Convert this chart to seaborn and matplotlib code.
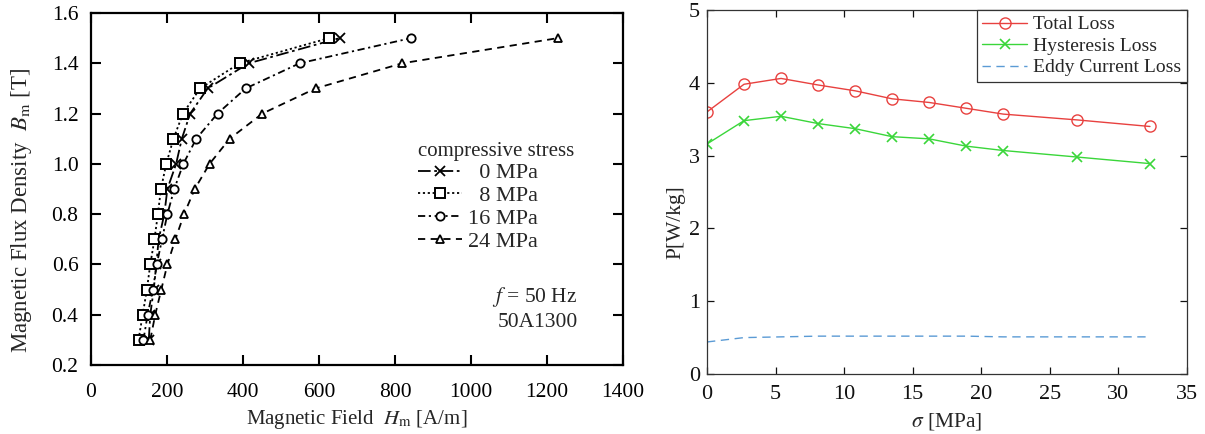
import matplotlib
matplotlib.use("Agg")
import matplotlib.pyplot as plt
import seaborn as sns
import numpy as np
import pandas as pd

# ---------------- data: left chart (B-H curves) ----------------
B_levels = [0.3, 0.4, 0.5, 0.6, 0.7, 0.8, 0.9, 1.0, 1.1, 1.2, 1.3, 1.4, 1.5]
H_0MPa = [152, 156, 165, 172, 178, 193, 201, 224, 239, 261, 307, 415, 654]
H_8MPa = [125, 136, 147, 156, 167, 176, 184, 198, 217, 242, 287, 391, 626]
H_16MPa = [138, 149, 163, 173, 187, 201, 219, 243, 277, 333, 407, 549, 842]
H_24MPa = [156, 169, 185, 201, 222, 245, 273, 312, 365, 451, 591, 819, 1228]
stress_labels = ["  0 MPa", "  8 MPa", "16 MPa", "24 MPa"]

# ---------------- data: right chart (losses vs stress) ----------------
sigma = [0, 2.7, 5.4, 8.1, 10.8, 13.5, 16.2, 18.9, 21.6, 27.0, 32.3]
total_loss = [3.60, 3.98, 4.06, 3.97, 3.89, 3.78, 3.73, 3.65, 3.57, 3.49, 3.40]
hyst_loss = [3.16, 3.48, 3.54, 3.44, 3.37, 3.26, 3.23, 3.13, 3.07, 2.98, 2.89]
eddy_loss = [0.44, 0.50, 0.51, 0.52, 0.52, 0.52, 0.52, 0.52, 0.51, 0.51, 0.51]

sns.set_theme(style="ticks")
plt.rcParams["font.family"] = ["Liberation Serif", "DejaVu Serif"]
plt.rcParams["mathtext.fontset"] = "stix"

W, H = 1205, 434
fig = plt.figure(figsize=(W / 100, H / 100), dpi=100)
fig.patch.set_facecolor("white")

# ---------- left axes ----------
axL = fig.add_axes([91 / W, 1 - 365 / H, (623 - 91) / W, (365 - 13) / H])
styles = [
    dict(marker="x", linestyle=(0, (7, 2, 1.5, 2)), ms=6.5, mew=1.3),
    dict(marker="s", linestyle=(0, (1.2, 1.5)), ms=7.5, mew=1.4),
    dict(marker="o", linestyle=(0, (4, 2, 1.2, 2)), ms=6, mew=1.3),
    dict(marker="^", linestyle=(0, (4, 3)), ms=6, mew=1.3),
]
for Hs, lab, st in zip([H_0MPa, H_8MPa, H_16MPa, H_24MPa], stress_labels, styles):
    df = pd.DataFrame({"H": Hs, "B": B_levels})
    sns.lineplot(data=df, x="H", y="B", sort=False, ax=axL, color="black",
                 linewidth=1.3, marker=st["marker"], markersize=st["ms"],
                 markeredgewidth=st["mew"], markerfacecolor="white",
                 markeredgecolor="black", linestyle=st["linestyle"], label=lab)

axL.set_xlim(0, 1400)
axL.set_ylim(0.2, 1.6)
axL.set_xticks(np.arange(0, 1401, 200))
axL.set_yticks(np.arange(0.2, 1.61, 0.2))
axL.set_yticklabels([f"{v:.1f}" for v in np.arange(0.2, 1.61, 0.2)])
for sp in axL.spines.values():
    sp.set_linewidth(1.6)
    sp.set_color("black")
    sp.set_visible(True)
axL.tick_params(direction="in", length=7, width=1.5, top=True, right=True,
                labelsize=15.5, colors="black")
axL.tick_params(axis="x", pad=13)
axL.tick_params(axis="y", pad=9)
axL.set_xlabel(r"Magnetic Field  $H_{\mathrm{m}}$ [A/m]", fontsize=15, va="center")
axL.xaxis.set_label_coords(0.5, -0.156)
axL.set_ylabel(r"Magnetic Flux Density  $B_{\mathrm{m}}$ [T]", fontsize=16.5,
               va="center")
axL.yaxis.set_label_coords(-0.130, 0.440)
legL = axL.legend(title="compressive stress", loc="upper left",
                  bbox_to_anchor=(0.585, 0.679), frameon=False, fontsize=16,
                  title_fontsize=15, handlelength=2.0, handletextpad=0.25,
                  labelspacing=0.1, borderpad=0.2, numpoints=1)
legL._legend_box.align = "left"
axL.text(0.915, 0.193, r"$f$ = 50 Hz", transform=axL.transAxes, ha="right",
         va="center", fontsize=15.5)
axL.text(0.915, 0.122, "50A1300", transform=axL.transAxes, ha="right",
         va="center", fontsize=15.5)

# ---------- right axes ----------
axR = fig.add_axes([707 / W, 1 - 374 / H, (1187 - 707) / W, (374 - 10) / H])
dfR = pd.DataFrame({"sigma": sigma, "total": total_loss, "hyst": hyst_loss,
                    "eddy": eddy_loss})
red, green, blue = "#e8413f", "#3ad63a", "#5b9bd5"
sns.lineplot(data=dfR, x="sigma", y="total", ax=axR, color=red,
             linewidth=1.0, marker="o", markersize=8, markerfacecolor="none",
             markeredgecolor=red, markeredgewidth=1.0, label="Total Loss")
sns.lineplot(data=dfR, x="sigma", y="hyst", ax=axR, color=green,
             linewidth=1.0, marker="x", markersize=7, markeredgewidth=1.2,
             markeredgecolor=green, label="Hysteresis Loss")
sns.lineplot(data=dfR, x="sigma", y="eddy", ax=axR, color=blue,
             linewidth=1.0, linestyle=(0, (6, 4)), label="Eddy Current Loss")
axR.set_xlim(0, 35)
axR.set_ylim(0, 5)
axR.set_xticks(np.arange(0, 36, 5))
axR.set_yticks(np.arange(0, 6, 1))
for sp in axR.spines.values():
    sp.set_linewidth(0.9)
    sp.set_color("#333333")
    sp.set_visible(True)
axR.tick_params(direction="in", length=5, width=0.9, top=True, right=True,
                labelsize=16, colors="#111111")
axR.tick_params(axis="x", pad=8)
axR.tick_params(axis="y", pad=5)
axR.set_xlabel(r"$\sigma$ [MPa]", fontsize=15.5, va="center")
axR.xaxis.set_label_coords(0.5, -0.131)
axR.set_ylabel("P[W/kg]", fontsize=15.5, va="center")
axR.yaxis.set_label_coords(-0.065, 0.418)
legR = axR.legend(loc="upper right", borderaxespad=0, fancybox=False,
                  framealpha=1, edgecolor="#333333", fontsize=14,
                  handlelength=2.3, handletextpad=0.3, labelspacing=0.2,
                  borderpad=0.3)
legR.get_frame().set_linewidth(0.9)

fig.savefig("out.png", dpi=100, facecolor="white")
